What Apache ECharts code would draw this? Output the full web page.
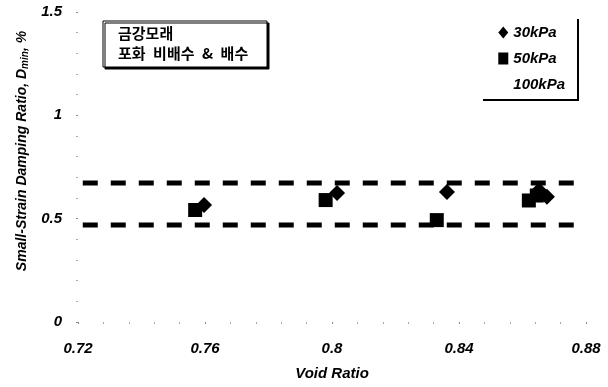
<!DOCTYPE html>
<html>
<head>
<meta charset="utf-8">
<script src="https://cdn.jsdelivr.net/npm/echarts@6/dist/echarts.min.js"></script>
<style>
  html, body { margin: 0; padding: 0; background: #fff; }
  #chart { width: 608px; height: 387px; }
</style>
</head>
<body>
<div id="chart"></div>
<script>
// Minimum damping ratio against void ratio (Geum River sand)
const seriesNames = ['30kPa', '50kPa', '100kPa'];
const voidRatio30 = [0.7597, 0.8016, 0.8362, 0.8652, 0.8677];
const damping30   = [0.566, 0.624, 0.629, 0.638, 0.606];
const voidRatio50 = [0.7569, 0.7980, 0.8330, 0.8620, 0.8645];
const damping50   = [0.542, 0.590, 0.493, 0.588, 0.612];
const voidRatio100 = [];
const damping100   = [];
// Upper / lower bounds of the data band
const boundVoidRange = [0.7215, 0.8775];
const upperBound = 0.672;
const lowerBound = 0.469;
const xTicks = [0.72, 0.76, 0.80, 0.84, 0.88];
const yTicks = [0, 0.5, 1, 1.5];

const pairs = (xs, ys) => xs.map((x, i) => [x, ys[i]]);
const FONT = '"Liberation Sans", Arial, sans-serif';
const KFONT = '"Noto Sans CJK KR", "Liberation Sans", sans-serif';

const chart = echarts.init(document.getElementById('chart'), null, { renderer: 'canvas' });

const txt = size => ({ fontFamily: FONT, fontWeight: 'bold', fontStyle: 'italic', fontSize: size, color: '#000' });

const boundSeries = (name, v) => ({
  name: name,
  type: 'line',
  data: boundVoidRange.map(x => [x, v]),
  symbol: 'none',
  silent: true,
  lineStyle: { color: '#000', width: 5, type: [15, 13] },
  z: 1
});

chart.setOption({
  animation: false,
  backgroundColor: '#fff',
  grid: { left: 78, right: 22, top: 12, bottom: 65 },
  legend: {
    orient: 'vertical',
    right: 38,
    top: 20,
    itemWidth: 10,
    itemHeight: 12,
    itemGap: 11,
    data: seriesNames,
    textStyle: txt(15),
    selectedMode: false
  },
  xAxis: {
    type: 'value',
    min: xTicks[0],
    max: xTicks[xTicks.length - 1],
    interval: 0.04,
    axisLine: { show: false },
    axisTick: { show: true, length: 2, lineStyle: { color: '#888' } },
    minorTick: { show: true, splitNumber: 5, length: 2, lineStyle: { color: '#aaa' } },
    splitLine: { show: false },
    axisLabel: Object.assign({ margin: 19, formatter: v => String(+v.toFixed(2)) }, txt(15)),
    name: 'Void Ratio',
    nameLocation: 'middle',
    nameGap: 44,
    nameTextStyle: txt(15)
  },
  yAxis: {
    type: 'value',
    min: yTicks[0],
    max: yTicks[yTicks.length - 1],
    interval: 0.5,
    axisLine: { show: false },
    axisTick: { show: true, length: 2, lineStyle: { color: '#888' } },
    minorTick: { show: true, splitNumber: 5, length: 2, lineStyle: { color: '#aaa' } },
    splitLine: { show: false },
    axisLabel: Object.assign({ margin: 16 }, txt(15)),
    name: '{n|Small-Strain Damping Ratio, D}{s|min}{n|, %}',
    nameLocation: 'middle',
    nameGap: 41,
    nameTextStyle: {
      padding: [0, 0, 0, 32],
      rich: {
        n: txt(14),
        s: Object.assign(txt(10), { padding: [6, 0, 0, 0] })
      }
    }
  },
  graphic: [
    {
      type: 'rect',
      shape: { x: 103, y: 21, width: 164, height: 46 },
      style: { fill: '#fff', stroke: '#000', lineWidth: 1, shadowColor: '#000', shadowOffsetX: 2, shadowOffsetY: 2, shadowBlur: 0 },
      z: 10
    },
    {
      type: 'text', left: 118, top: 26, z: 11,
      style: { text: '금강모래', font: 'bold 15px ' + KFONT, fill: '#000' }
    },
    {
      type: 'text', left: 118, top: 46, z: 11,
      style: { text: '포화\u2002비배수\u2002&\u2002배수', font: 'bold 15px ' + KFONT, fill: '#000' }
    },
    {
      type: 'polyline', z: 10,
      shape: { points: [[578, 19], [578, 100], [483, 100]] },
      style: { stroke: '#000', lineWidth: 2, fill: null }
    }
  ],
  series: [
    {
      name: seriesNames[0],
      type: 'scatter',
      data: pairs(voidRatio30, damping30),
      symbol: 'diamond',
      symbolSize: [16, 16],
      itemStyle: { color: '#000', opacity: 1 },
      z: 4
    },
    {
      name: seriesNames[1],
      type: 'scatter',
      data: pairs(voidRatio50, damping50),
      symbol: 'rect',
      symbolSize: [14, 14],
      itemStyle: { color: '#000', opacity: 1 },
      z: 3
    },
    {
      name: seriesNames[2],
      type: 'scatter',
      data: pairs(voidRatio100, damping100),
      symbol: 'circle',
      symbolSize: 10,
      itemStyle: { color: 'rgba(0,0,0,0)' },
      z: 3
    },
    boundSeries('upper', upperBound),
    boundSeries('lower', lowerBound)
  ]
});
</script>
</body>
</html>
